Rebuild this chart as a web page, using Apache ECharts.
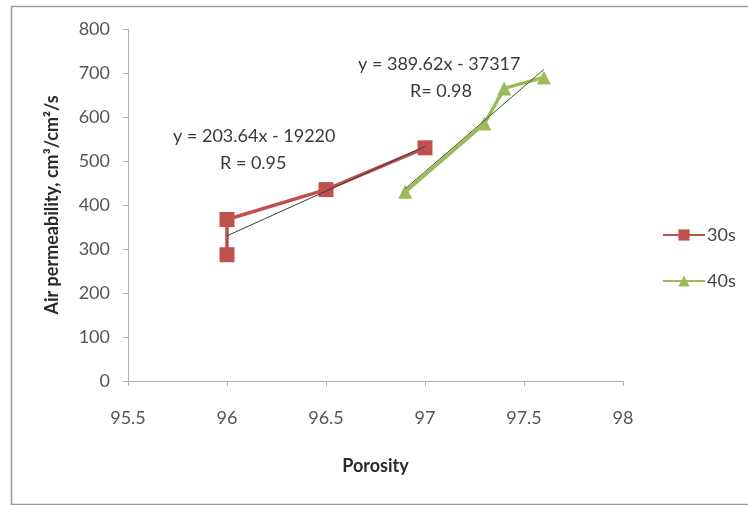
<!DOCTYPE html>
<html>
<head>
<meta charset="utf-8">
<style>
  html, body { margin: 0; padding: 0; background: #fff; }
  #chart { width: 748px; height: 505px; }
</style>
<script src="https://cdn.jsdelivr.net/npm/echarts@6/dist/echarts.min.js"></script>
</head>
<body>
<div id="chart"></div>
<script>
  // values
  const pts30 = [[96, 287], [96, 367], [96.5, 435], [97, 530]]
  const pts40 = [[96.9, 430], [97.3, 585], [97.4, 665], [97.6, 690]]
  const trend30 = [[96, 330], [97, 533]]
  const trend40 = [[96.9, 437], [97.6, 708]]
  const eq30 = ['y = 203.64x - 19220', 'R = 0.95']
  const eq40 = ['y = 389.62x - 37317', 'R= 0.98']

  const font = 'Lato, "Open Sans", sans-serif'
  const txt = (left, top, text) => ({
    type: 'text', left: left, top: top,
    style: { text: text, fontSize: 18, fill: '#3a3a3a', fontFamily: font }
  })
  const chart = echarts.init(document.getElementById('chart'))
  chart.setOption({
    animation: false,
    textStyle: { fontFamily: font },
    grid: { left: 128, right: 125, top: 29, bottom: 124 },
    legend: {
      orient: 'vertical',
      left: 657,
      top: 221,
      itemGap: 28,
      itemWidth: 42,
      itemHeight: 14,
      data: ['30s', '40s'],
      textStyle: { fontSize: 18, color: '#444', fontFamily: font, padding: [0, 0, 0, -3] }
    },
    xAxis: {
      type: 'value',
      min: 95.5,
      max: 98,
      interval: 0.5,
      name: 'Porosity',
      nameLocation: 'middle',
      nameGap: 76,
      nameTextStyle: { fontSize: 18, fontWeight: 'bold', color: '#2a2a2a', fontFamily: font },
      axisLine: { lineStyle: { color: '#b0b0b0' } },
      axisTick: { show: true, length: 5, lineStyle: { color: '#b0b0b0' } },
      axisLabel: { fontSize: 18, color: '#555', margin: 28, fontFamily: font },
      splitLine: { show: false }
    },
    yAxis: {
      type: 'value',
      min: 0,
      max: 800,
      interval: 100,
      name: 'Air permeability, cm³/cm²/s',
      nameLocation: 'middle',
      nameGap: 67,
      nameRotate: 90,
      nameTextStyle: { fontSize: 18, fontWeight: 'bold', color: '#2a2a2a', fontFamily: font },
      axisLine: { show: true, lineStyle: { color: '#b0b0b0' } },
      axisTick: { show: true, length: 5, lineStyle: { color: '#b0b0b0' } },
      axisLabel: { fontSize: 18, color: '#555', margin: 18, fontFamily: font },
      splitLine: { show: false }
    },
    graphic: [
      {
        type: 'rect', left: 9, top: 4, silent: true,
        shape: { width: 750, height: 498 },
        style: { fill: 'none', stroke: '#9a9a9a', lineWidth: 1.5 }
      },
      txt(173, 127, eq30[0]),
      txt(220, 154, eq30[1]),
      txt(358, 55, eq40[0]),
      txt(410, 82, eq40[1])
    ],
    series: [
      {
        name: '30s',
        type: 'line',
        data: pts30,
        symbol: 'rect',
        symbolSize: 15,
        lineStyle: { color: '#c0504d', width: 3.5 },
        itemStyle: { color: '#c0504d' },
        z: 3
      },
      {
        name: '40s',
        type: 'line',
        data: pts40,
        symbol: 'triangle',
        symbolSize: 14,
        lineStyle: { color: '#9bbb59', width: 3.5 },
        itemStyle: { color: '#9bbb59' },
        z: 3
      },
      {
        name: 'trend30',
        type: 'line',
        data: trend30,
        symbol: 'none',
        lineStyle: { color: '#3a3a3a', width: 1 },
        z: 4
      },
      {
        name: 'trend40',
        type: 'line',
        data: trend40,
        symbol: 'none',
        lineStyle: { color: '#3f5a1e', width: 1 },
        z: 4
      }
    ]
  })
</script>
</body>
</html>
